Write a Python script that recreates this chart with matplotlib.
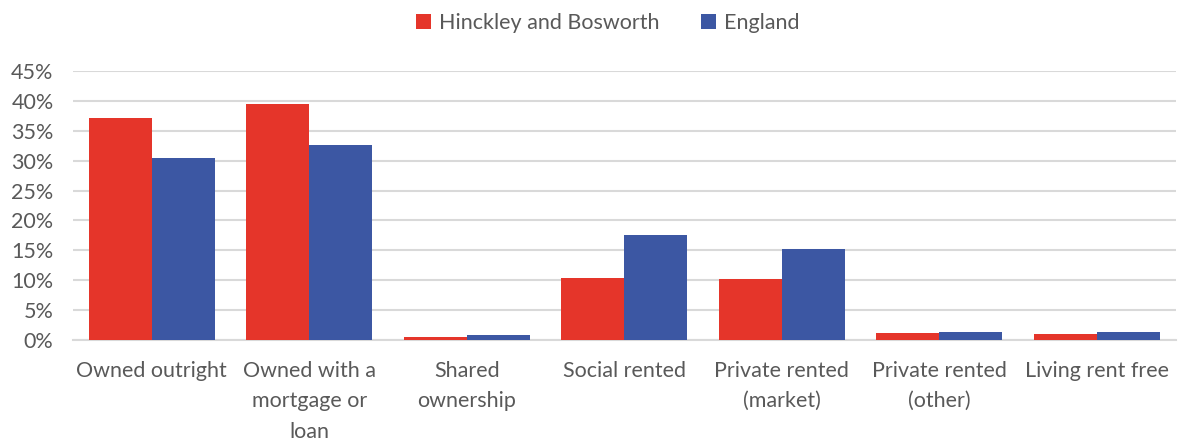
import numpy as np
import matplotlib.pyplot as plt
from matplotlib.ticker import PercentFormatter

categories = ["Owned outright", "Owned with a\nmortgage or\nloan", "Shared\nownership",
              "Social rented", "Private rented\n(market)", "Private rented\n(other)",
              "Living rent free"]
hinckley = [37.1, 39.5, 0.55, 10.3, 10.2, 1.1, 1.0]
england = [30.5, 32.7, 0.8, 17.6, 15.3, 1.4, 1.3]
series_names = ["Hinckley and Bosworth", "England"]

RED = "#E5352A"
BLUE = "#3C57A3"
GREY = "#595959"

plt.rcParams['font.family'] = ['Lato', 'DejaVu Sans']

fig = plt.figure(figsize=(11.78, 4.42), dpi=100)
ax = fig.add_axes([0.062, 0.2308, 0.936, 0.6086])

x = np.arange(len(categories))
w = 0.4
ax.bar(x - w / 2, hinckley, w, color=RED, label=series_names[0], zorder=3)
ax.bar(x + w / 2, england, w, color=BLUE, label=series_names[1], zorder=3)

ax.set_xlim(-0.5, len(categories) - 0.5)
ax.set_ylim(0, 45)
ax.set_yticks(np.arange(0, 46, 5))
ax.yaxis.set_major_formatter(PercentFormatter(decimals=0))
ax.grid(axis='y', color='#d9d9d9', linewidth=1.5, zorder=0)
ax.set_xticks(x)
ax.set_xticklabels(categories, fontsize=15.5, color=GREY, linespacing=1.65, va='top')
ax.tick_params(axis='y', labelsize=15.5, labelcolor=GREY, length=0, pad=14)
ax.tick_params(axis='x', length=0, pad=15)
for s in ['top', 'right', 'left']:
    ax.spines[s].set_visible(False)
ax.spines['bottom'].set_color('#d9d9d9')
ax.spines['bottom'].set_linewidth(1.5)

leg = fig.legend(loc='upper center', bbox_to_anchor=(0.516, 1.015), ncol=2, frameon=False,
                 fontsize=15.5, handlelength=0.7, handleheight=0.7, handletextpad=0.4,
                 columnspacing=1.9)
for t in leg.get_texts():
    t.set_color(GREY)

fig.savefig("out.png", dpi=100)
